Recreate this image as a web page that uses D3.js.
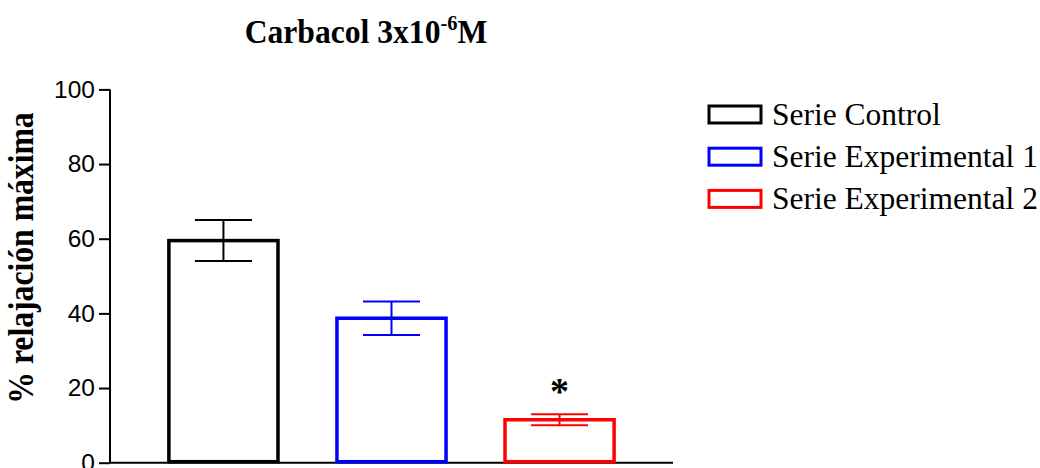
<!DOCTYPE html>
<html>
<head>
<meta charset="utf-8">
<script src="https://cdn.jsdelivr.net/npm/d3@7"></script>
<style>
  body { margin: 0; background: #fff; }
  svg { display: block; }
</style>
</head>
<body>
<div id="chart"></div>
<script>
// values
var groups = ['Serie Control', 'Serie Experimental 1', 'Serie Experimental 2'],
    means = [59.5, 38.7, 11.5],
    sems = [5.5, 4.5, 1.5],
    colors = ['#000000', '#0000ff', '#ff0000'],
    yTicks = [0, 20, 40, 60, 80, 100],
    signif = ['', '', '*'];

var width = 1040, height = 468,
    barStroke = 3.5,
    capWidth = 57;

var svg = d3.select('#chart').append('svg')
        .attr('width', width)
        .attr('height', height),
    x = d3.scaleBand()
        .domain(groups)
        .range([110, 673])
        .paddingInner(0.33)
        .paddingOuter(0.34),
    y = d3.scaleLinear()
        .domain([0, 100])
        .range([462.7, 89.4]);

var data = groups.map(function (g, i) {
    return {name: g, mean: means[i], sem: sems[i], color: colors[i], mark: signif[i]};
});

// title (slightly condensed like the original export)
var title = svg.append('text')
    .attr('transform', 'translate(366,43) scale(0.93,1)')
    .attr('text-anchor', 'middle')
    .attr('font-family', '"Liberation Serif", "Times New Roman", serif')
    .attr('font-weight', 'bold')
    .attr('font-size', 34);
title.append('tspan').text('Carbacol 3x10');
title.append('tspan').attr('font-size', 22).attr('dy', -13).text('-6');
title.append('tspan').attr('dy', 13).text('M');

// y axis
var yAxis = svg.append('g')
    .attr('transform', 'translate(110,0)')
    .call(d3.axisLeft(y).tickValues(yTicks).tickSize(11).tickPadding(4));
yAxis.select('.domain').attr('stroke-width', 2).attr('d', 'M0,' + y(100) + 'V' + y(0));
yAxis.selectAll('.tick line').attr('stroke-width', 2);
yAxis.selectAll('.tick text')
    .attr('font-family', '"Liberation Sans", Arial, sans-serif')
    .attr('font-size', 24.5)
    .attr('fill', '#000');

// x baseline
svg.append('line')
    .attr('x1', 110).attr('x2', 673)
    .attr('y1', y(0)).attr('y2', y(0))
    .attr('stroke', '#000')
    .attr('stroke-width', 2);

// y label, condensed along the text direction
svg.append('text')
    .attr('transform', 'translate(33,258) rotate(-90) scale(0.88,1)')
    .attr('text-anchor', 'middle')
    .attr('font-family', '"Liberation Serif", "Times New Roman", serif')
    .attr('font-weight', 'bold')
    .attr('font-size', 36)
    .text('% relajación máxima');

// bars
svg.selectAll('.bar')
    .data(data)
    .enter().append('rect')
    .attr('class', 'bar')
    .attr('x', function (d) { return x(d.name) + barStroke / 2; })
    .attr('width', x.bandwidth() - barStroke)
    .attr('y', function (d) { return y(d.mean); })
    .attr('height', function (d) { return y(0) - y(d.mean) - 1; })
    .attr('fill', 'none')
    .attr('stroke', function (d) { return d.color; })
    .attr('stroke-width', barStroke);

// error bars
var err = svg.selectAll('.err')
    .data(data)
    .enter().append('g')
    .attr('class', 'err')
    .attr('stroke', function (d) { return d.color; })
    .attr('stroke-width', 2);
err.append('line')
    .attr('x1', function (d) { return x(d.name) + x.bandwidth() / 2; })
    .attr('x2', function (d) { return x(d.name) + x.bandwidth() / 2; })
    .attr('y1', function (d) { return y(d.mean + d.sem); })
    .attr('y2', function (d) { return y(d.mean - d.sem); });
err.append('line')
    .attr('x1', function (d) { return x(d.name) + x.bandwidth() / 2 - capWidth / 2; })
    .attr('x2', function (d) { return x(d.name) + x.bandwidth() / 2 + capWidth / 2; })
    .attr('y1', function (d) { return y(d.mean + d.sem); })
    .attr('y2', function (d) { return y(d.mean + d.sem); });
err.append('line')
    .attr('x1', function (d) { return x(d.name) + x.bandwidth() / 2 - capWidth / 2; })
    .attr('x2', function (d) { return x(d.name) + x.bandwidth() / 2 + capWidth / 2; })
    .attr('y1', function (d) { return y(d.mean - d.sem); })
    .attr('y2', function (d) { return y(d.mean - d.sem); });

// significance mark
svg.selectAll('.sig')
    .data(data.filter(function (d) { return d.mark; }))
    .enter().append('text')
    .attr('class', 'sig')
    .attr('x', function (d) { return x(d.name) + x.bandwidth() / 2; })
    .attr('y', function (d) { return y(d.mean + d.sem) - 10; })
    .attr('text-anchor', 'middle')
    .attr('font-family', '"Liberation Serif", "Times New Roman", serif')
    .attr('font-weight', 'bold')
    .attr('font-size', 38)
    .text(function (d) { return d.mark; });

// legend
var legend = svg.selectAll('.legend')
    .data(data)
    .enter().append('g')
    .attr('class', 'legend')
    .attr('transform', function (d, i) { return 'translate(709,' + (106 + i * 42.2) + ')'; });
legend.append('rect')
    .attr('width', 52)
    .attr('height', 17)
    .attr('fill', 'none')
    .attr('stroke', function (d) { return d.color; })
    .attr('stroke-width', 3);
legend.append('text')
    .attr('x', 63)
    .attr('y', 19)
    .attr('font-family', '"Liberation Serif", "Times New Roman", serif')
    .attr('font-size', 31.5)
    .text(function (d) { return d.name; });
</script>
</body>
</html>
